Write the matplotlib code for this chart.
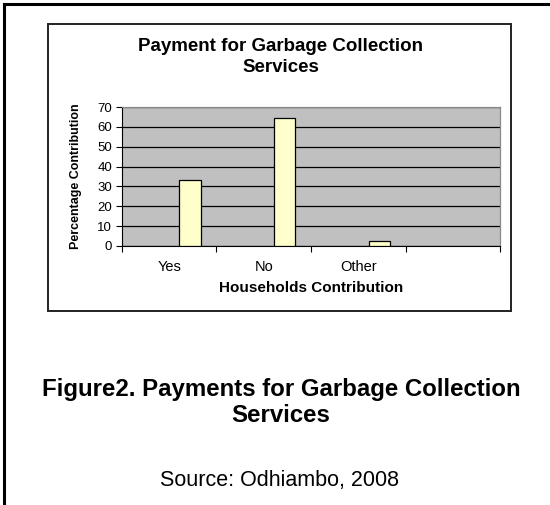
import matplotlib
matplotlib.use("Agg")
import matplotlib.pyplot as plt
from matplotlib.patches import Rectangle
from matplotlib.lines import Line2D

plt.rcParams['font.family'] = ['Liberation Sans', 'DejaVu Sans']

# data
categories = ["Yes", "No", "Other", ""]
values = [33.3, 64.5, 2.3]
yticks = [0, 10, 20, 30, 40, 50, 60, 70]

fig = plt.figure(figsize=(5.5, 5.05), dpi=100)

# outer page frame: only left and top edges
fig.add_artist(Line2D([0.0065, 0.0065], [0.0, 0.992], color="black", lw=2.2))
fig.add_artist(Line2D([0.0065, 1.0], [0.992, 0.992], color="black", lw=2.2))

# chart frame
fig.add_artist(Rectangle((0.088, 0.3842), 0.842, 0.5683, transform=fig.transFigure,
                         fill=False, edgecolor="#222222", lw=1.4))

ax = fig.add_axes([0.2218, 0.5129, 0.6873, 0.2752])
ax.set_facecolor("#C0C0C0")
ax.set_axisbelow(True)
ax.yaxis.grid(True, color="black", lw=0.9)

xpos = list(range(len(values)))
ax.bar([x + 0.22 for x in xpos], values, width=0.223, color="#FFFFCC",
       edgecolor="black", linewidth=0.9, zorder=3)

ax.set_xlim(-0.5, len(categories) - 0.5)
ax.set_ylim(0, 70)
ax.set_yticks(yticks)
ax.set_xticks(range(len(categories)))
ax.set_xticklabels(categories, fontsize=10.5)
ax.set_xticks([x - 0.5 for x in range(len(categories) + 1)], minor=True)
ax.tick_params(axis="x", which="major", length=0, pad=10)
ax.tick_params(axis="x", which="minor", length=4, width=0.8)
ax.tick_params(axis="y", length=4, width=0.8, labelsize=9.5, pad=3)

for side in ["top", "right"]:
    ax.spines[side].set_color("#8a8a8a")
    ax.spines[side].set_linewidth(0.9)
ax.spines["left"].set_linewidth(0.8)
ax.spines["bottom"].set_linewidth(0.8)

ax.set_xlabel("Households Contribution", fontsize=11, fontweight="bold", labelpad=5)
ax.set_ylabel("Percentage Contribution", fontsize=9, fontweight="bold", labelpad=11)

fig.text(0.51, 0.887, "Payment for Garbage Collection\nServices", ha="center", va="center",
         fontsize=13.5, fontweight="bold", linespacing=1.3)

fig.text(0.511, 0.203, "Figure2. Payments for Garbage Collection\nServices", ha="center",
         va="center", fontsize=17.3, fontweight="bold", linespacing=1.2)
fig.text(0.509, 0.048, "Source: Odhiambo, 2008", ha="center", va="center", fontsize=15.5)

fig.savefig("out.png", dpi=100)
